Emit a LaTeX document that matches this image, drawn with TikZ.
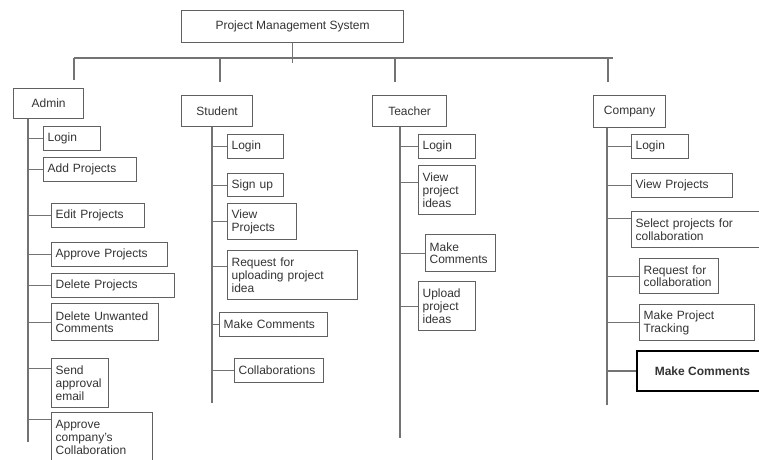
\documentclass[tikz,border=0pt]{standalone}
\usepackage{fontspec}
\setmainfont{Liberation Sans}
\definecolor{boxline}{gray}{0.38}
\definecolor{treeline}{gray}{0.45}
\definecolor{labeltext}{gray}{0.2}

\begin{document}
\begin{tikzpicture}[x=1pt, y=-1pt,
    role/.style={draw=boxline, line width=1.2pt, inner sep=0pt, anchor=north west,
      text=labeltext, font=\fontsize{12}{12.7}\selectfont},
    task/.style={draw=boxline, line width=1.2pt, inner xsep=4pt, inner ysep=1pt,
      anchor=north west, align=left, text=labeltext, font=\fontsize{12}{12.7}\selectfont},
    tree/.style={draw=treeline, line width=1.1pt}]
    \clip (0,0) rectangle (759,459);
    % System
    \node [role, minimum width=222pt, minimum height=32pt] (pms) at (181,10) {Project Management System};
    \coordinate (busL) at (74,58);
    \coordinate (busR) at (613,58);
    \coordinate (dStudent) at (220,58);
    \coordinate (dTeacher) at (395,58);
    \coordinate (dCompany) at (608,58);
    \draw [tree] (pms.south) -- ++(0,20);
    \draw [tree] (busL) -- (busR);
    \draw [tree] (busL) -- ++(0,22);
    \draw [tree] (dStudent) -- ++(0,24);
    \draw [tree] (dTeacher) -- ++(0,24);
    \draw [tree] (dCompany) -- ++(0,24);
    % Roles
    \node [role, minimum width=70pt, minimum height=30pt] (admin) at (13,88) {Admin};
    \node [role, minimum width=71pt, minimum height=31pt] (student) at (181,95) {Student};
    \node [role, minimum width=74pt, minimum height=31pt] (teacher) at (372,95) {Teacher};
    \node [role, minimum width=72pt, minimum height=32pt] (company) at (593,95) {Company};
    % Admin tasks
    \node [task, text width=49pt, minimum height=24pt] (a1) at (43,126) {Login};
    \node [task, text width=85pt, minimum height=24pt] (a2) at (43,157) {Add Projects};
    \node [task, text width=85pt, minimum height=24pt] (a3) at (51,203) {Edit Projects};
    \node [task, text width=108pt, minimum height=24pt] (a4) at (51,242) {Approve Projects};
    \node [task, text width=115pt, minimum height=24pt] (a5) at (51,273) {Delete Projects};
    \node [task, text width=99pt, minimum height=37pt] (a6) at (51,303) {Delete Unwanted\\Comments};
    \node [task, text width=49pt, minimum height=49pt] (a7) at (51,358) {Send\\approval\\email};
    \node [task, text width=93pt, minimum height=50pt] (a8) at (51,412) {Approve\\company's\\Collaboration};
    \coordinate (aEnd) at (28,442);
    \draw [tree] (admin.south -| aEnd) -- (aEnd);
    \draw [tree] (a1.west) -- (a1.west -| aEnd);
    \draw [tree] (a2.west) -- (a2.west -| aEnd);
    \draw [tree] (a3.west) -- (a3.west -| aEnd);
    \draw [tree] (a4.west) -- (a4.west -| aEnd);
    \draw [tree] (a5.west) -- (a5.west -| aEnd);
    \draw [tree] (a6.west) -- (a6.west -| aEnd);
    \draw [tree] ([yshift=15pt]a7.west) -- ([yshift=15pt]a7.west -| aEnd);
    \draw [tree] ([yshift=18pt]a8.west) -- ([yshift=18pt]a8.west -| aEnd);
    % Student tasks
    \node [task, text width=48pt, minimum height=24pt] (s1) at (227,134) {Login};
    \node [task, text width=48pt, minimum height=23pt] (s2) at (227,173) {Sign up};
    \node [task, text width=61pt, minimum height=36pt] (s3) at (227,203) {View\\Projects};
    \node [task, text width=122pt, minimum height=49pt] (s4) at (227,250) {Request for\\uploading project\\idea};
    \node [task, text width=100pt, minimum height=24pt] (s5) at (219,312) {Make Comments};
    \node [task, text width=81pt, minimum height=24pt] (s6) at (234,358) {Collaborations};
    \coordinate (sEnd) at (212,403);
    \draw [tree] (student.south -| sEnd) -- (sEnd);
    \draw [tree] (s1.west) -- (s1.west -| sEnd);
    \draw [tree] (s2.west) -- (s2.west -| sEnd);
    \draw [tree] (s3.west) -- (s3.west -| sEnd);
    \draw [tree] ([yshift=9pt]s4.west) -- ([yshift=9pt]s4.west -| sEnd);
    \draw [tree] (s5.west) -- (s5.west -| sEnd);
    \draw [tree] (s6.west) -- (s6.west -| sEnd);
    % Teacher tasks
    \node [task, text width=49pt, minimum height=24pt] (t1) at (418,134) {Login};
    \node [task, text width=49pt, minimum height=49pt] (t2) at (418,165) {View\\project\\ideas};
    \node [task, text width=62pt, minimum height=37pt] (t3) at (425,234) {Make\\Comments};
    \node [task, text width=49pt, minimum height=49pt] (t4) at (418,281) {Upload\\project\\ideas};
    \coordinate (tEnd) at (400,438);
    \draw [tree] (teacher.south -| tEnd) -- (tEnd);
    \draw [tree] (t1.west) -- (t1.west -| tEnd);
    \draw [tree] ([yshift=8pt]t2.west) -- ([yshift=8pt]t2.west -| tEnd);
    \draw [tree] (t3.west) -- (t3.west -| tEnd);
    \draw [tree] (t4.west) -- (t4.west -| tEnd);
    % Company tasks
    \node [task, text width=49pt, minimum height=24pt] (c1) at (631,134) {Login};
    \node [task, text width=93pt, minimum height=24pt] (c2) at (631,173) {View Projects};
    \node [task, text width=128pt, minimum height=36pt] (c3) at (631,211) {Select projects for\\collaboration};
    \node [task, text width=71pt, minimum height=35pt] (c4) at (639,258) {Request for\\collaboration};
    \node [task, text width=107pt, minimum height=36pt] (c5) at (639,304) {Make Project\\Tracking};
    \node [role, draw=black, line width=2pt, minimum width=131pt, minimum height=40pt,
      font=\fontsize{12}{12.7}\selectfont\bfseries] (c6) at (636,350) {Make Comments};
    \coordinate (cEnd) at (607,405);
    \draw [tree] (company.south -| cEnd) -- (cEnd);
    \draw [tree] (c1.west) -- (c1.west -| cEnd);
    \draw [tree] (c2.west) -- (c2.west -| cEnd);
    \draw [tree] ([yshift=11pt]c3.west) -- ([yshift=11pt]c3.west -| cEnd);
    \draw [tree] (c4.west) -- (c4.west -| cEnd);
    \draw [tree] (c5.west) -- (c5.west -| cEnd);
    \draw [tree] (c6.west) -- (c6.west -| cEnd);
\end{tikzpicture}
\end{document}
